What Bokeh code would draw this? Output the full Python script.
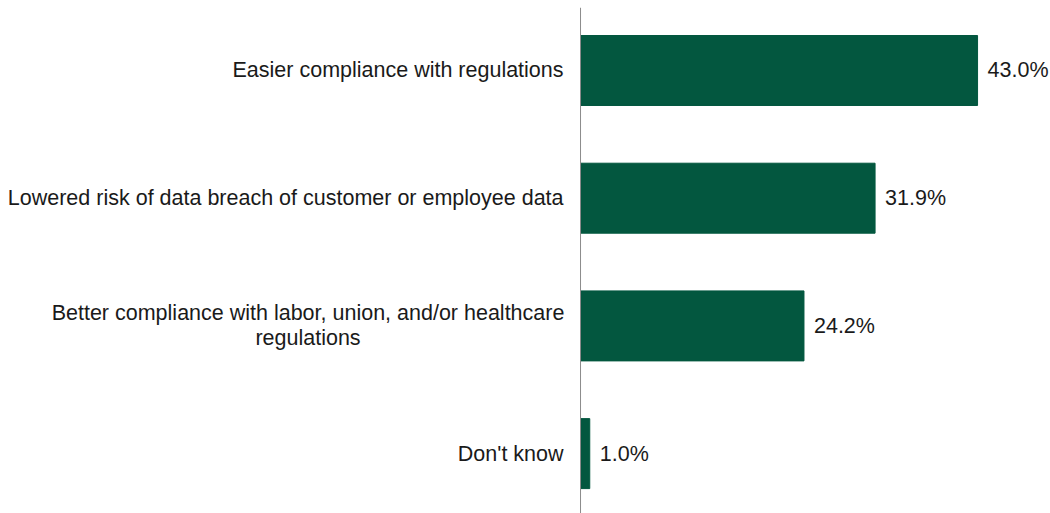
from bokeh.plotting import figure
from bokeh.models import ColumnDataSource, Range1d, Span
from bokeh.core.properties import value
from bokeh.embed import file_html
from bokeh.resources import INLINE

categories = [
    "Easier compliance with regulations",
    "Lowered risk of data breach of customer or employee data",
    "Better compliance with labor, union, and/or healthcare\nregulations",
    "Don't know",
]
values = [43.0, 31.9, 24.2, 1.0]
value_labels = ["43.0%", "31.9%", "24.2%", "1.0%"]

FONT = "Liberation Sans"
FS = "21.5px"
TXT = "#1a1a1a"

ypos = list(range(len(categories)))
src = ColumnDataSource(dict(y=ypos, v=values, lab=value_labels))

single = [i for i, c in zip(ypos, categories) if "\n" not in c]
multi = [i for i, c in zip(ypos, categories) if "\n" in c]
src_single = ColumnDataSource(dict(y=single, x=[0] * len(single), t=[categories[i] for i in single]))
src_multi = ColumnDataSource(dict(y=multi, x=[0] * len(multi), t=[categories[i] for i in multi]))

p = figure(width=1050, height=513, output_backend="svg", toolbar_location=None,
           x_range=Range1d(-62.82, 50.90), y_range=Range1d(3.469, -0.4933),
           min_border_left=0, min_border_right=0, min_border_top=7, min_border_bottom=0)
p.axis.visible = False
p.grid.visible = False
p.outline_line_color = None

p.hbar(y="y", right="v", left=0, height=0.548, source=src, color="#03573F")
p.text(x="v", y="y", text="lab", source=src, x_offset=10, text_align="left",
       text_baseline="middle", text_font=value(FONT),
       text_font_size=FS, text_color=TXT)

p.text(x="x", y="y", text="t", source=src_single, x_offset=-17, text_align="right",
       text_baseline="middle", text_font=value(FONT), text_font_size=FS, text_color=TXT)
p.text(x="x", y="y", text="t", source=src_multi, x_offset=-272.5, text_align="center",
       text_baseline="middle", text_font=value(FONT), text_font_size=FS, text_color=TXT,
       text_line_height=1.05)

p.add_layout(Span(location=0, dimension="height", line_color="#8c8c8c", line_width=1))

open("out.html", "w").write(file_html(p, INLINE))
